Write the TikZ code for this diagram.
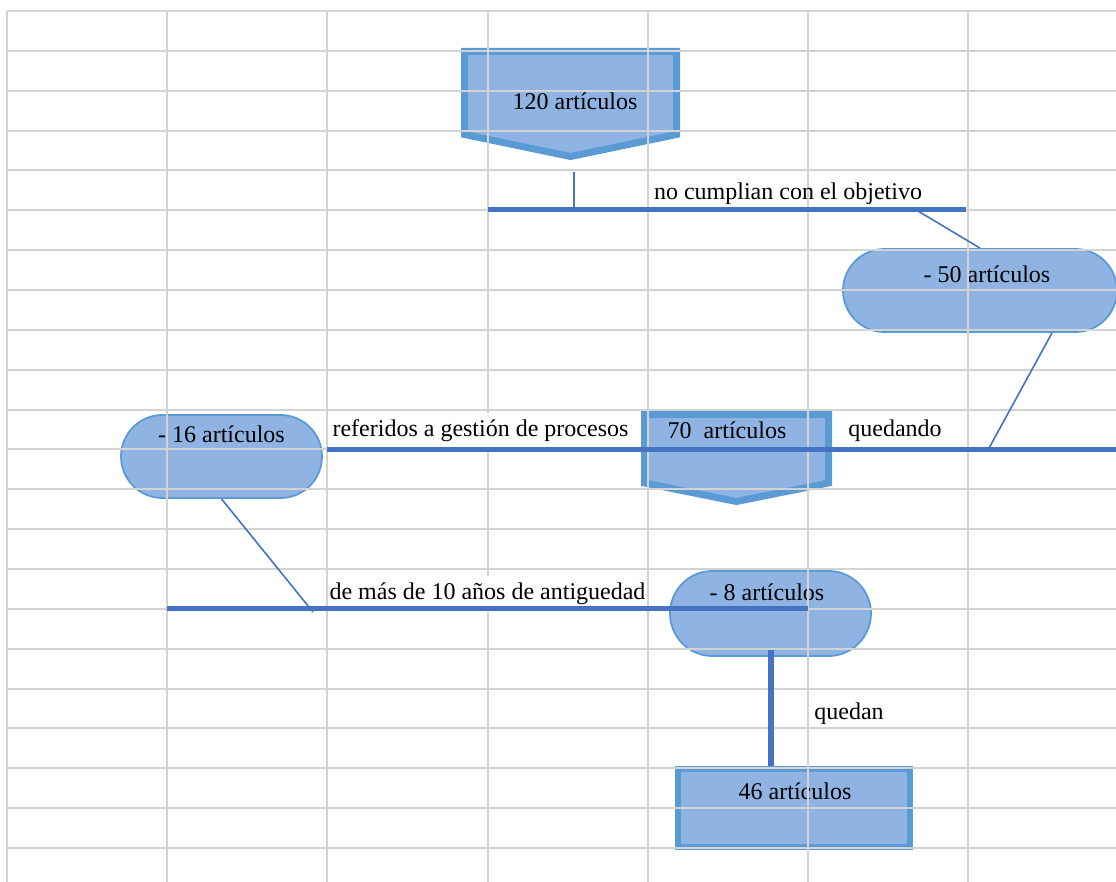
\documentclass[tikz,border=0pt]{standalone}
\usepackage{fontspec}
\setmainfont{Liberation Serif}
\usetikzlibrary{shapes.misc}

\definecolor{boxfill}{HTML}{8FB4E3}
\definecolor{boxedge}{HTML}{5B9BD5}
\definecolor{linkblue}{HTML}{4472C4}
\definecolor{gridgray}{HTML}{D3D3D3}

\begin{document}
\begin{tikzpicture}[x=0.5pt,y=-0.5pt,
	txt/.style = {font=\fontsize{12}{14}\selectfont, inner sep=0pt, anchor=base},
	lbl/.style = {txt, fill=white, inner xsep=1pt, inner ysep=3.5pt},
	pill/.style = {rounded rectangle, draw=boxedge, line width=0.9pt, fill=boxfill, inner sep=0pt},
	arrowbox/.style = {draw=boxedge, line width=3.5pt, fill=boxfill, line join=miter},
	sheetbox/.style = {draw=boxedge, line width=3pt, fill=boxfill, inner sep=0pt},
	mainline/.style = {draw=linkblue, line width=2.5pt},
	thinline/.style = {draw=linkblue, line width=0.8pt},
	gridline/.style = {draw=gridgray, line width=1pt}]

	\useasboundingbox (0,0) rectangle (1116,882);

	%Shapes with their counts
	\draw[arrowbox] (464.5,51.5) -- (676.5,51.5) -- (676.5,134.5) -- (570.5,156.5) -- (464.5,134.5) -- cycle;
	\node[txt] (n120) at (575,110) {120 artículos};

	\node[pill, minimum width=137pt, minimum height=41.5pt] (n50) at (980,290.5) {};
	\node[txt] (t50) at (987,283) {- 50 artículos};

	\draw[arrowbox] (644.5,414.5) -- (828.5,414.5) -- (828.5,483) -- (736.5,501.5) -- (644.5,483) -- cycle;
	\node[txt] (n70) at (727,439) {70\ \ artículos};

	\node[pill, minimum width=100.5pt, minimum height=41.5pt] (n16) at (221.5,456.5) {};
	\node[txt] (t16) at (221.5,443) {- 16 artículos};

	\node[pill, minimum width=100.5pt, minimum height=42.5pt] (n8) at (770.5,613.5) {};
	\node[txt] (t8) at (767,601) {- 8 artículos};

	\node[sheetbox, minimum width=116pt, minimum height=39pt] (n46) at (794,808) {};
	\node[txt] (t46) at (795,799) {46 artículos};

	%Sheet grid
	\foreach \r in {0,...,21}
		\draw[gridline] (7,{11+39.857*\r}) -- (1116,{11+39.857*\r});
	\foreach \c in {0,...,6}
		\draw[gridline] ({7+160.17*\c},11) -- ({7+160.17*\c},882);

	%Labels on the lines
	\node[txt] (noCumplian) at (788,200) {no cumplian con el objetivo};
	\node[lbl] (referidos) at (480.5,437) {referidos a gestión de procesos};
	\node[txt] (quedando) at (895,437) {quedando};
	\node[lbl] (deMas) at (487.5,600) {de más de 10 años de antiguedad};
	\node[txt] (quedan) at (849,720) {quedan};

	%Points where the lines end
	\coordinate (topL) at (488,210);
	\coordinate (topR) at (966,210);
	\coordinate (topDrop) at (574,172);
	\coordinate (topHit) at (574,210);
	\coordinate (topSlant) at (918,211);
	\coordinate (midL) at (327,450);
	\coordinate (midR) at (1116,450);
	\coordinate (midSlant) at (988,450);
	\coordinate (lowL) at (167,609);
	\coordinate (lowR) at (808,609);
	\coordinate (lowSlant) at (313,612);

	%Lines
	\draw[mainline] (topL) -- (topR); %first cut
	\draw[thinline] (topDrop) -- (topHit); %120 down to the cut
	\draw[thinline] (topSlant) -- (n50.north); %cut to -50

	\draw[mainline] (midL) -- (midR); %second cut
	\draw[thinline] ([xshift=36pt]n50.south) -- (midSlant); %-50 down to the cut
	\draw[thinline] (n16.south) -- (lowSlant); %-16 down to the third cut

	\draw[mainline] (lowL) -- (lowR); %third cut
	\draw[mainline, line width=3pt] ([yshift=3.5pt]n8.south) -- (n8.south |- n46.north); %-8 to 46

\end{tikzpicture}
\end{document}
